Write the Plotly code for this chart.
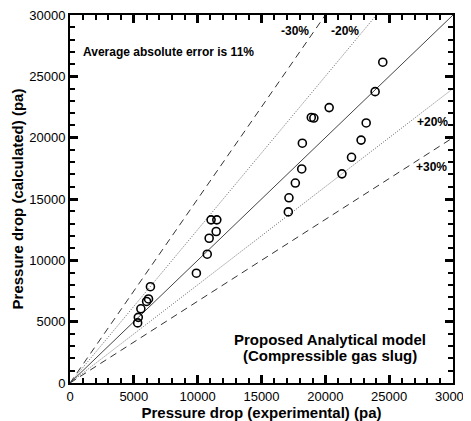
import plotly.graph_objects as go

# measured data
exp_dp = [5300, 5350, 5550, 6000, 6150, 6300, 9900, 10750, 10900, 11050, 11450, 11500,
          17100, 17150, 17650, 18150, 18200, 18900, 19100, 20300, 21300, 22050, 22800,
          23200, 23900, 24500]
calc_dp = [4900, 5350, 6050, 6650, 6850, 7850, 8950, 10500, 11800, 13300, 12350, 13300,
           13950, 15100, 16300, 17450, 19550, 21650, 21600, 22450, 17050, 18400, 19800,
           21200, 23750, 26150]

# error band ratios (calculated / experimental)
band_names = ["-30%", "-20%", "exact", "+20%", "+30%"]
band_ratios = [1.5, 1.25, 1.0, 0.8, 1 / 1.5]
band_styles = {
    "-30%": dict(color="#333333", width=1, dash="7px,5px"),
    "-20%": dict(color="#666666", width=1, dash="1px,1.5px"),
    "exact": dict(color="#444444", width=1, dash="solid"),
    "+20%": dict(color="#666666", width=1, dash="1px,1.5px"),
    "+30%": dict(color="#333333", width=1, dash="7px,5px"),
}
axis_max = 30000
tick_values = [0, 5000, 10000, 15000, 20000, 25000, 30000]

fig = go.Figure()
for name, r in zip(band_names, band_ratios):
    xe = min(axis_max, axis_max / r)
    fig.add_trace(go.Scatter(x=[0, xe], y=[0, xe * r], mode="lines",
                             line=band_styles[name], hoverinfo="skip", showlegend=False))

fig.add_trace(go.Scatter(x=exp_dp, y=calc_dp, mode="markers",
                         marker=dict(symbol="circle-open", size=8, color="black",
                                     line=dict(width=1.6, color="black")),
                         showlegend=False))

font_main = "Arial, Liberation Sans, sans-serif"
axis_common = dict(
    range=[0, axis_max], tickmode="array", tickvals=tick_values,
    ticktext=[str(v) for v in tick_values],
    showgrid=False, zeroline=False, automargin=False, ticklabeloverflow="allow",
    showline=True, linecolor="black", linewidth=2, mirror="ticks",
    ticks="inside", ticklen=8, tickwidth=2.5, tickcolor="black",
    tickfont=dict(family=font_main, size=13, color="black"),
    minor=dict(ticks="inside", dtick=1000, tick0=0, ticklen=5, tickwidth=1.5,
               tickcolor="black", showgrid=False),
)

# the page body has an 8px default margin; size the figure to fit the window
fig.update_layout(
    width=463, height=413,
    margin=dict(l=62, r=18, t=7, b=38),
    paper_bgcolor="white", plot_bgcolor="white",
    xaxis=dict(**axis_common,
               title=dict(text="<b>Pressure drop (experimental) (pa)</b>",
                          font=dict(family=font_main, size=15, color="black"), standoff=0)),
    yaxis=dict(**axis_common,
               title=dict(text="<b>Pressure drop (calculated) (pa)</b>",
                          font=dict(family=font_main, size=15, color="black"), standoff=2)),
)

ann_font = dict(family=font_main, color="black")
fig.add_annotation(x=900, y=27000, text="<b>Average absolute error is 11%</b>",
                   showarrow=False, xanchor="left", yanchor="middle",
                   font=dict(**ann_font, size=12))
labels = [("-30%", 17650, 28700), ("-20%", 21550, 28700), ("+20%", 28400, 21300), ("+30%", 28350, 17600)]
for t, lx, ly in labels:
    fig.add_annotation(x=lx, y=ly, text="<b>" + t + "</b>", showarrow=False,
                       font=dict(**ann_font, size=12))
fig.add_annotation(x=20400, y=3550, text="<b>Proposed Analytical model</b>",
                   showarrow=False, font=dict(**ann_font, size=15))
fig.add_annotation(x=20400, y=2250, text="<b>(Compressible gas slug)</b>",
                   showarrow=False, font=dict(**ann_font, size=15))

fig.write_html("out.html")
